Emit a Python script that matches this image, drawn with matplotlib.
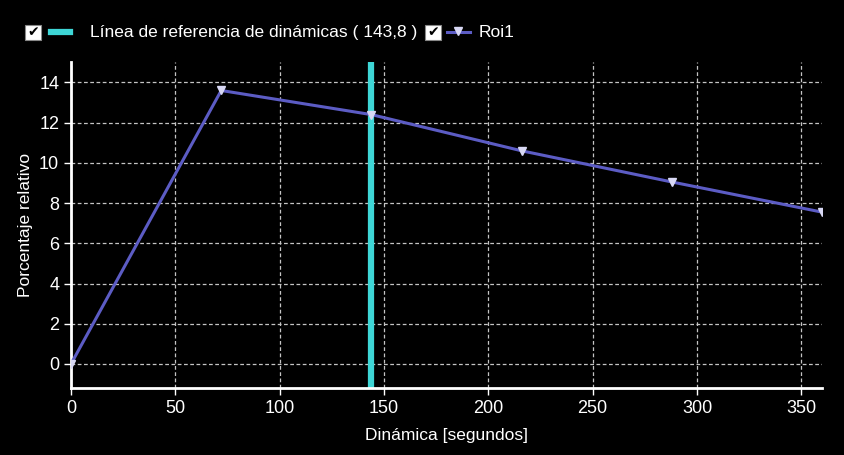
import matplotlib
matplotlib.use("Agg")
import matplotlib.pyplot as plt
from matplotlib.lines import Line2D
from matplotlib.patches import Rectangle

plt.rcParams['font.family'] = ['Liberation Sans Narrow', 'Liberation Sans', 'DejaVu Sans']

# data
dinamica = [0, 72, 144, 216, 288, 360]
roi1 = [0, 13.6, 12.4, 10.6, 9.05, 7.55]
ref_x = 143.8
ref_label = "Línea de referencia de dinámicas ( 143,8 )"
x_ticks = [0, 50, 100, 150, 200, 250, 300, 350]
y_ticks = [0, 2, 4, 6, 8, 10, 12, 14]

line_color = '#5c5cc4'
ref_color = '#3ed6d6'
marker_color = '#d8d8f4'

fig = plt.figure(figsize=(8.45, 4.55), dpi=100, facecolor='black')
ax = fig.add_axes([0.084, 0.147, 0.889, 0.716], facecolor='black')

ax.grid(True, color='#c4c4c4', linestyle=(0, (3, 2)), linewidth=0.9)
ax.set_axisbelow(True)

ax.axvline(ref_x, color=ref_color, linewidth=4.5, zorder=2)
ax.plot(dinamica, roi1, color=line_color, linewidth=2.2, marker='v',
        markersize=6, markerfacecolor=marker_color, markeredgecolor=marker_color, zorder=3)

ax.set_xlim(0, 360)
ax.set_ylim(-1.2, 15)
ax.set_xticks(x_ticks)
ax.set_yticks(y_ticks)

for s in ['top', 'right']:
    ax.spines[s].set_visible(False)
for s in ['left', 'bottom']:
    ax.spines[s].set_color('white')
    ax.spines[s].set_linewidth(2)

ax.tick_params(colors='white', labelsize=13, length=5, width=1)
ax.set_xlabel('Dinámica [segundos]', color='white', fontsize=12.5, labelpad=8)
ax.set_ylabel('Porcentaje relativo', color='white', fontsize=12.5, labelpad=4)

# legend row with checkboxes
def checkbox(x, y):
    fig.patches.append(Rectangle((x, y), 0.019, 0.033, transform=fig.transFigure,
                                 facecolor='white', edgecolor='#888888', lw=0.8))
    fig.text(x + 0.0095, y + 0.0165, '✔', color='black', fontsize=10,
             ha='center', va='center', family='DejaVu Sans')

checkbox(0.030, 0.912)
fig.add_artist(Line2D([0.060, 0.083], [0.929, 0.929], transform=fig.transFigure,
                      color=ref_color, linewidth=4.5))
fig.text(0.107, 0.929, ref_label, color='white', fontsize=12.5, va='center')

checkbox(0.503, 0.912)
fig.add_artist(Line2D([0.529, 0.556], [0.929, 0.929], transform=fig.transFigure,
                      color=line_color, linewidth=2.2))
fig.add_artist(Line2D([0.5425], [0.931], transform=fig.transFigure, linestyle='none',
                      marker='v', markersize=6, color=marker_color))
fig.text(0.566, 0.929, 'Roi1', color='white', fontsize=12.5, va='center')

fig.savefig('out.png', dpi=100, facecolor='black')
